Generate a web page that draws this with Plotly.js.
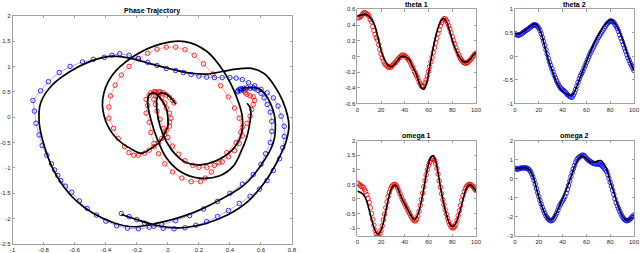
<!DOCTYPE html>
<html>
<head>
<meta charset="utf-8">
<script src="https://cdn.plot.ly/plotly-3.0.1.min.js"></script>
<style>html,body{margin:0;padding:0;background:#fff;}#chart{width:640px;height:253px;}</style>
</head>
<body>
<div id="chart"></div>
<script>
// ---- data ----
const tObs = [0,1,2,3,4,5,6,7,8,9,10,11,12,13,14,15,16,17,18,19,20,21,22,23,24,25,26,27,28,29,30,31,32,33,34,35,36,37,38,39,40,41,42,43,44,45,46,47,48,49,50,51,52,53,54,55,56,57,58,59,60,61,62,63,64,65,66,67,68,69,70,71,72,73,74,75,76,77,78,79,80,81,82,83,84,85,86,87,88,89,90,91,92,93,94,95,96,97,98,99,100];
const tFit = [0,2,4,6,8,10,12,14,16,18,20,22,24,26,28,30,32,34,36,38,40,42,44,46,48,50,52,54,56,58,60,62,64,66,68,70,72,74,76,78,80,82,84,86,88,90,92,94,96,98,100];

const theta1Obs = [0.50,0.49,0.50,0.51,0.53,0.55,0.56,0.55,0.54,0.53,0.51,0.47,0.44,0.38,0.33,0.28,0.24,0.21,0.15,0.09,0.03,-0.02,-0.06,-0.09,-0.11,-0.12,-0.14,-0.13,-0.14,-0.12,-0.11,-0.09,-0.08,-0.06,-0.04,-0.02,-0.01,0.01,0.02,0.01,0.01,-0.01,-0.02,-0.04,-0.06,-0.09,-0.12,-0.15,-0.19,-0.22,-0.25,-0.28,-0.32,-0.35,-0.38,-0.38,-0.37,-0.34,-0.30,-0.25,-0.19,-0.13,-0.07,-0.01,0.05,0.11,0.17,0.23,0.29,0.34,0.39,0.43,0.46,0.48,0.48,0.46,0.43,0.39,0.35,0.30,0.25,0.20,0.16,0.11,0.07,0.03,0.00,-0.03,-0.05,-0.07,-0.08,-0.09,-0.08,-0.08,-0.06,-0.05,-0.03,-0.01,0.01,0.03,0.04];
const omega1Obs = [0.55,0.52,0.48,0.45,0.42,0.40,0.33,0.25,0.15,0.02,-0.12,-0.30,-0.50,-0.70,-0.90,-1.08,-1.20,-1.27,-1.27,-1.20,-1.08,-0.92,-0.72,-0.52,-0.30,-0.10,0.08,0.23,0.35,0.43,0.48,0.50,0.50,0.45,0.38,0.28,0.18,0.08,-0.02,-0.10,-0.18,-0.26,-0.34,-0.42,-0.50,-0.58,-0.65,-0.71,-0.75,-0.75,-0.70,-0.58,-0.42,-0.22,-0.02,0.20,0.42,0.63,0.83,1.00,1.15,1.26,1.34,1.38,1.38,1.33,1.22,1.05,0.85,0.62,0.40,0.18,-0.02,-0.20,-0.37,-0.52,-0.66,-0.78,-0.88,-0.95,-0.99,-0.99,-0.95,-0.86,-0.73,-0.57,-0.40,-0.22,-0.04,0.12,0.25,0.35,0.43,0.48,0.50,0.50,0.48,0.44,0.39,0.33,0.28];
const theta2Obs = [0.48,0.47,0.45,0.45,0.46,0.47,0.49,0.51,0.53,0.55,0.56,0.58,0.60,0.62,0.64,0.66,0.67,0.67,0.66,0.63,0.60,0.55,0.48,0.40,0.32,0.23,0.14,0.05,-0.04,-0.12,-0.19,-0.26,-0.33,-0.40,-0.46,-0.52,-0.57,-0.62,-0.66,-0.69,-0.71,-0.73,-0.75,-0.78,-0.81,-0.83,-0.85,-0.86,-0.87,-0.82,-0.77,-0.70,-0.63,-0.55,-0.48,-0.41,-0.36,-0.31,-0.25,-0.19,-0.13,-0.07,-0.01,0.05,0.10,0.15,0.20,0.25,0.30,0.35,0.40,0.44,0.48,0.52,0.56,0.60,0.64,0.68,0.71,0.73,0.75,0.75,0.74,0.72,0.68,0.64,0.59,0.53,0.46,0.39,0.32,0.25,0.18,0.11,0.04,-0.03,-0.09,-0.15,-0.20,-0.25,-0.30];
const omega2Obs = [0.55,0.52,0.50,0.52,0.55,0.56,0.57,0.58,0.57,0.58,0.56,0.53,0.47,0.38,0.25,0.10,-0.08,-0.28,-0.50,-0.72,-0.93,-1.13,-1.32,-1.50,-1.66,-1.81,-1.94,-2.04,-2.12,-2.17,-2.20,-2.19,-2.14,-2.05,-1.93,-1.80,-1.65,-1.48,-1.36,-1.25,-1.15,-1.04,-0.92,-0.75,-0.56,-0.35,-0.12,0.12,0.33,0.52,0.70,0.88,1.00,1.09,1.14,1.18,1.22,1.25,1.22,1.16,1.08,1.02,0.96,0.92,0.88,0.84,0.81,0.79,0.78,0.78,0.78,0.77,0.74,0.68,0.62,0.55,0.48,0.38,0.22,0.02,-0.18,-0.38,-0.60,-0.82,-1.05,-1.25,-1.42,-1.56,-1.70,-1.84,-1.96,-2.06,-2.13,-2.18,-2.20,-2.19,-2.15,-2.09,-2.02,-1.96,-1.90];

const theta1Fit = [0.51,0.52,0.53,0.535,0.53,0.51,0.47,0.42,0.33,0.20,0.08,-0.01,-0.07,-0.11,-0.13,-0.12,-0.09,-0.05,-0.01,0.00,0.00,-0.02,-0.05,-0.11,-0.17,-0.24,-0.33,-0.40,-0.42,-0.36,-0.22,-0.05,0.11,0.25,0.36,0.44,0.48,0.47,0.41,0.31,0.21,0.12,0.05,-0.01,-0.05,-0.07,-0.07,-0.05,-0.02,0.02,0.05];
const omega1Fit = [0.27,0.24,0.19,0.10,-0.08,-0.38,-0.69,-0.97,-1.16,-1.20,-1.07,-0.80,-0.42,-0.04,0.28,0.44,0.48,0.38,0.17,-0.02,-0.18,-0.32,-0.48,-0.62,-0.71,-0.62,-0.42,-0.08,0.35,0.82,1.20,1.44,1.49,1.30,0.90,0.42,0.00,-0.37,-0.66,-0.86,-0.94,-0.90,-0.74,-0.48,-0.18,0.13,0.37,0.47,0.47,0.38,0.26];
const theta2Fit = [0.49,0.48,0.48,0.51,0.54,0.58,0.62,0.66,0.69,0.68,0.60,0.49,0.31,0.12,-0.07,-0.22,-0.35,-0.49,-0.60,-0.68,-0.74,-0.78,-0.81,-0.83,-0.82,-0.75,-0.63,-0.50,-0.37,-0.24,-0.11,0.02,0.14,0.25,0.35,0.45,0.54,0.62,0.68,0.74,0.78,0.76,0.70,0.62,0.52,0.39,0.24,0.08,-0.06,-0.19,-0.30];
const omega2Fit = [0.53,0.55,0.57,0.58,0.58,0.57,0.48,0.28,-0.03,-0.50,-0.95,-1.34,-1.67,-1.93,-2.09,-2.16,-2.08,-1.88,-1.62,-1.33,-1.03,-0.72,-0.42,-0.08,0.28,0.62,0.90,1.10,1.20,1.16,1.05,0.95,0.87,0.85,0.90,0.95,0.96,0.86,0.65,0.32,-0.15,-0.50,-0.90,-1.30,-1.65,-1.92,-2.10,-2.18,-2.14,-2.03,-1.92];

const phaseXTicks = [-1,-0.8,-0.6,-0.4,-0.2,0,0.2,0.4,0.6,0.8];
const phaseXText = ["-1","-0.8","-0.6","-0.4","-0.2","0","0.2","0.4","0.6","0.8"];
const phaseYTicks = [-2.5,-2,-1.5,-1,-0.5,0,0.5,1,1.5,2];
const phaseYText = ["-2.5","-2","-1.5","-1","-0.5","0","0.5","1","1.5","2"];
const timeTicks = [0,20,40,60,80,100];
const timeText = ["0","20","40","60","80","100"];
const th1Ticks = [-0.6,-0.4,-0.2,0,0.2,0.4,0.6];
const th1Text = ["-0.6","-0.4","-0.2","0","0.2","0.4","0.6"];
const th2Ticks = [-1,-0.5,0,0.5,1];
const th2Text = ["-1","-0.5","0","0.5","1"];
const om1Ticks = [-1,-0.5,0,0.5,1,1.5,2];
const om1Text = ["-1","-0.5","0","0.5","1","1.5","2"];
const om2Ticks = [-3,-2,-1,0,1,2];
const om2Text = ["-3","-2","-1","0","1","2"];
const titles = ["Phase Trajectory","theta 1","theta 2","omega 1","omega 2"];

// ---- styling ----
const RED = "#ff0000", BLUE = "#0000ff";
const FONT = "Liberation Sans, Arial, sans-serif";
const W = 640, H = 253;
function dom(a, b, total) { return [a / total, b / total]; }
function ydom(top, bottom) { return [1 - bottom / H, 1 - top / H]; }

function axis(domain, range, tv, tt, anchor) {
  return {
    domain: domain, range: range, anchor: anchor,
    tickmode: "array", tickvals: tv, ticktext: tt,
    showgrid: false, zeroline: false,
    showline: true, mirror: "ticks", linecolor: "#8c8c8c", linewidth: 0.8,
    ticks: "inside", ticklen: 2.5, tickwidth: 0.8, tickcolor: "#8c8c8c",
    tickfont: { family: FONT, size: 6, color: "#262626" },
    fixedrange: true
  };
}

const obsMarker = (c) => ({ symbol: "circle-open", size: 4.5, color: c, line: { width: 0.8, color: c } });

const traces = [
  // phase trajectory
  { x: theta1Obs, y: omega1Obs, xaxis: "x", yaxis: "y", mode: "lines+markers",
    line: { color: "rgba(255,0,0,0.55)", width: 0.6 }, marker: obsMarker(RED) },
  { x: theta2Obs, y: omega2Obs, xaxis: "x", yaxis: "y", mode: "lines+markers",
    line: { color: "rgba(0,0,255,0.55)", width: 0.6 }, marker: obsMarker(BLUE) },
  { x: theta1Fit, y: omega1Fit, xaxis: "x", yaxis: "y", mode: "lines",
    line: { color: "#000", width: 1.7, shape: "spline", smoothing: 1 } },
  { x: theta2Fit, y: omega2Fit, xaxis: "x", yaxis: "y", mode: "lines",
    line: { color: "#000", width: 1.7, shape: "spline", smoothing: 1 } },
  // theta 1
  { x: tObs, y: theta1Obs, xaxis: "x2", yaxis: "y2", mode: "markers", marker: obsMarker(RED) },
  { x: tFit, y: theta1Fit, xaxis: "x2", yaxis: "y2", mode: "lines", line: { color: "#000", width: 1.6, shape: "spline" } },
  // theta 2
  { x: tObs, y: theta2Obs, xaxis: "x3", yaxis: "y3", mode: "markers", marker: obsMarker(BLUE) },
  { x: tFit, y: theta2Fit, xaxis: "x3", yaxis: "y3", mode: "lines", line: { color: "#000", width: 1.6, shape: "spline" } },
  // omega 1
  { x: tObs, y: omega1Obs, xaxis: "x4", yaxis: "y4", mode: "markers", marker: obsMarker(RED) },
  { x: tFit, y: omega1Fit, xaxis: "x4", yaxis: "y4", mode: "lines", line: { color: "#000", width: 1.6, shape: "spline" } },
  // omega 2
  { x: tObs, y: omega2Obs, xaxis: "x5", yaxis: "y5", mode: "markers", marker: obsMarker(BLUE) },
  { x: tFit, y: omega2Fit, xaxis: "x5", yaxis: "y5", mode: "lines", line: { color: "#000", width: 1.6, shape: "spline" } }
];

const mainX = dom(12.7, 292, W), mainY = ydom(15.7, 244);
const leftX = dom(357.3, 476, W), rightX = dom(515, 634, W);
const topY = ydom(9.3, 103.5), botY = ydom(140.7, 236);

function titleAnn(text, xd, ytopPx) {
  return { text: "<b>" + text + "</b>", xref: "paper", yref: "paper",
    x: (xd[0] + xd[1]) / 2, y: 1 - (ytopPx - 4.5) / H, xanchor: "center", yanchor: "middle",
    showarrow: false, font: { family: FONT, size: 7, color: "#000" } };
}

const layout = {
  width: W, height: H, margin: { l: 0, r: 0, t: 0, b: 0 },
  paper_bgcolor: "#fff", plot_bgcolor: "#fff", showlegend: false,
  xaxis: axis(mainX, [-1, 0.8], phaseXTicks, phaseXText, "y"),
  yaxis: axis(mainY, [-2.5, 2], phaseYTicks, phaseYText, "x"),
  xaxis2: axis(leftX, [0, 100], timeTicks, timeText, "y2"),
  yaxis2: axis(topY, [-0.6, 0.6], th1Ticks, th1Text, "x2"),
  xaxis3: axis(rightX, [0, 100], timeTicks, timeText, "y3"),
  yaxis3: axis(topY, [-1, 1], th2Ticks, th2Text, "x3"),
  xaxis4: axis(leftX, [0, 100], timeTicks, timeText, "y4"),
  yaxis4: axis(botY, [-1.27, 2], om1Ticks, om1Text, "x4"),
  xaxis5: axis(rightX, [0, 100], timeTicks, timeText, "y5"),
  yaxis5: axis(botY, [-3, 2], om2Ticks, om2Text, "x5"),
  annotations: [
    titleAnn(titles[0], mainX, 15.7),
    titleAnn(titles[1], leftX, 9.3),
    titleAnn(titles[2], rightX, 9.3),
    titleAnn(titles[3], leftX, 140.7),
    titleAnn(titles[4], rightX, 140.7)
  ]
};

Plotly.newPlot("chart", traces, layout, { staticPlot: true, displayModeBar: false });
</script>
</body>
</html>
